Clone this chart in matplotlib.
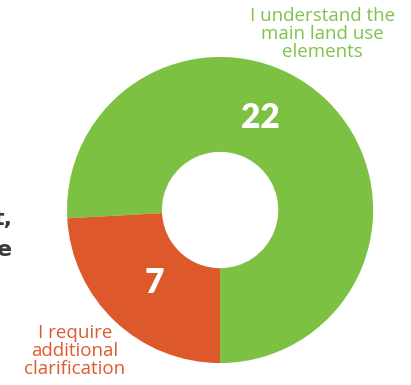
import matplotlib.pyplot as plt

# data
categories = ['I understand the\nmain land use\nelements', 'I require\nadditional\nclarification']
values = [22, 7]
colors = ['#7DC142', '#DD582B']
label_colors = ['#80C24C', '#DD5A2F']

fig = plt.figure(figsize=(4.11, 3.85), dpi=100)
ax = fig.add_axes([0.163, 0.057, 0.745, 0.795])

wedges, _ = ax.pie(values, colors=colors, startangle=-90, counterclock=True,
                   radius=1, wedgeprops=dict(width=0.62, linewidth=0))
ax.set_xlim(-1, 1)
ax.set_ylim(-1, 1)
ax.set_aspect('equal')
ax.axis('off')

# value labels inside the ring
value_pos = [(0.26, 0.60), (-0.43, -0.48)]
for v, (x, y) in zip(values, value_pos):
    ax.text(x, y, str(v), color='white', fontsize=24, fontweight='heavy',
            family=['Lato', 'DejaVu Sans'], ha='center', va='center')

# category labels
fig.text(0.785, 0.912, categories[0], color=label_colors[0], fontsize=13.5,
         family=['Open Sans', 'DejaVu Sans'], ha='center', va='center', linespacing=1.0)
fig.text(0.182, 0.088, categories[1], color=label_colors[1], fontsize=13.5,
         family=['Open Sans', 'DejaVu Sans'], ha='center', va='center', linespacing=1.0)

# clipped text from the neighbouring panel
fig.text(0.03, 0.39, 't,\ne', color='#3A3A3A', fontsize=16, fontweight='bold',
         ha='right', va='center', linespacing=1.7)

fig.savefig('out.png', dpi=100)
